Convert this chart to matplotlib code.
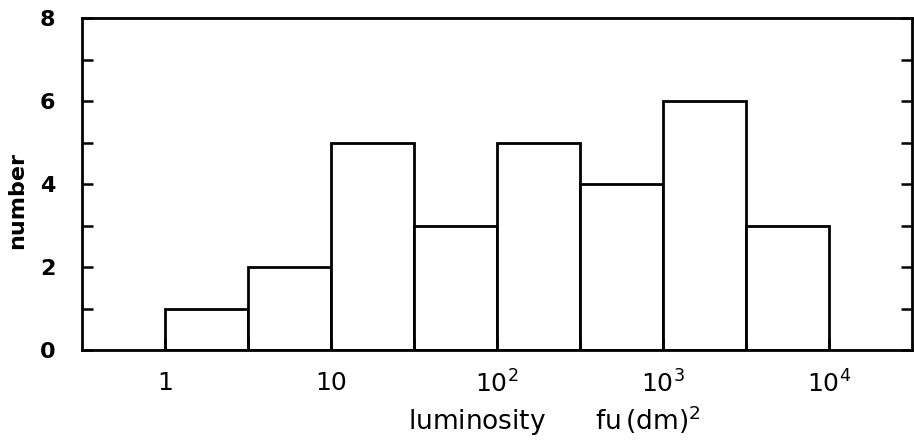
import numpy as np
import matplotlib
matplotlib.use("Agg")
import matplotlib.pyplot as plt
from matplotlib.ticker import FixedLocator, NullFormatter

# Data: half-decade luminosity bins (lower / upper edges) and counts
bin_lo = [1, 3.162, 10, 31.62, 100, 316.2, 1000, 3162]
bin_hi = [3.162, 10, 31.62, 100, 316.2, 1000, 3162, 10000]
counts = [1, 2, 5, 3, 5, 4, 6, 3]

x_ticks = [1, 10, 100, 1000, 10000]
x_ticklabels = ["1", "10", "$10^2$", "$10^3$", "$10^4$"]
x_minor = [3.162, 31.62, 316.2, 3162]
y_major = [0, 2, 4, 6, 8]
y_minor = [1, 3, 5, 7]

plt.rcParams['font.family'] = ['DejaVu Sans']
plt.rcParams['mathtext.fontset'] = 'dejavusans'

W, H = 914, 443
fig = plt.figure(figsize=(W / 100, H / 100), dpi=100)
ax = fig.add_axes([82 / W, 1 - 350 / H, (912 - 82) / W, (350 - 18) / H])

widths = [h - l for l, h in zip(bin_lo, bin_hi)]
ax.bar(bin_lo, counts, width=widths, align='edge', facecolor='white',
       edgecolor='black', linewidth=2.0)

ax.set_xscale('log')
ax.set_xlim(10 ** -0.5, 10 ** 4.5)
ax.set_ylim(0, 8)

ax.xaxis.set_major_locator(FixedLocator(x_ticks))
ax.set_xticklabels(x_ticklabels)
ax.xaxis.set_minor_locator(FixedLocator(x_minor))
ax.xaxis.set_minor_formatter(NullFormatter())

ax.yaxis.set_major_locator(FixedLocator(y_major))
ax.yaxis.set_minor_locator(FixedLocator(y_minor))

for s in ax.spines.values():
    s.set_linewidth(2.0)

ax.tick_params(axis='x', which='both', direction='in', length=9, width=1.8,
               top=False, bottom=True, labelsize=18, pad=15)
ax.tick_params(axis='y', which='both', direction='in', length=8, width=1.8,
               left=True, right=True, labelsize=16, pad=19)
for lab in ax.get_yticklabels():
    lab.set_fontweight('bold')

ax.set_ylabel("number", fontsize=16, fontweight='bold')
ax.yaxis.set_label_coords((17 - 82) / (912 - 82), 0.45)
ax.yaxis.label.set_va('center')

ax.set_xlabel("luminosity      fu$\\,$(dm)$^2$", fontsize=19)
ax.xaxis.label.set_va('baseline')
ax.xaxis.set_label_coords((554 - 82) / (912 - 82), (350 - 430) / (350 - 18))

fig.savefig("out.png", dpi=100)
